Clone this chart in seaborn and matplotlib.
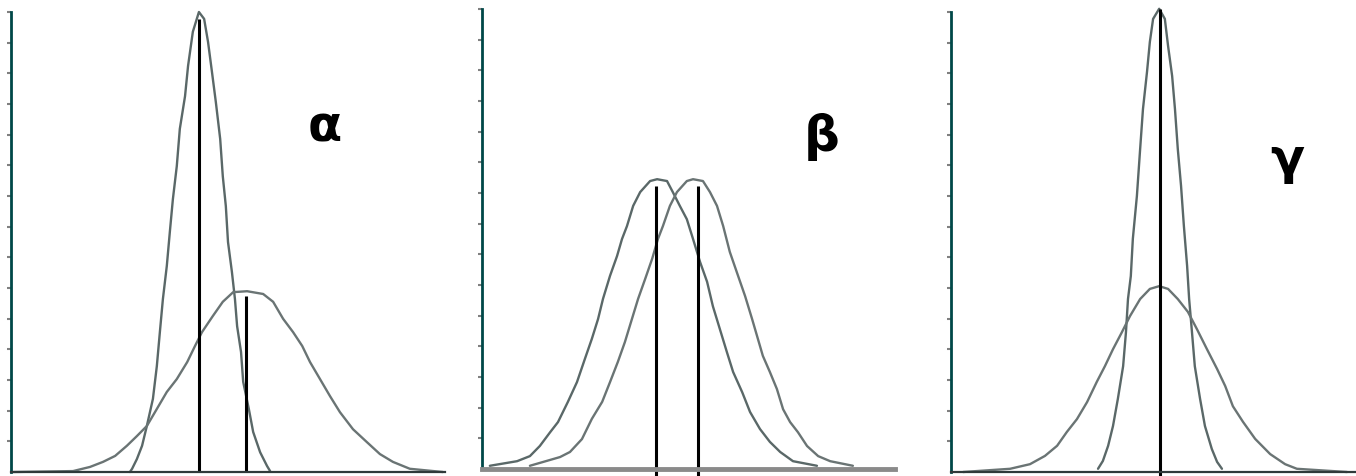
# Tres paneles con curvas normales (alpha, beta, gamma)
import numpy as np
import pandas as pd
import matplotlib
matplotlib.use('Agg')
import matplotlib.pyplot as plt
import seaborn as sns

# Datos: x en % del ancho del eje, y en % del alto
# Panel alfa: curva estrecha y curva ancha
a_narrow_x = [27.4, 27.9, 29.0, 30.2, 31.3, 32.7, 33.6, 34.3, 35.0, 35.9, 36.6, 37.3, 38.2, 38.9,
              40.1, 40.8, 41.9, 43.3, 44.5, 45.4, 46.3, 47.2, 48.2, 48.8, 49.5, 50.0, 50.9,
              51.6, 52.1, 53.0, 53.5, 54.8, 55.8, 57.4, 59.0, 59.7]
a_narrow_y = [0.0, 0.7, 2.8, 5.7, 10.0, 15.9, 23.0, 30.4, 37.6, 44.8, 52.2, 59.3, 66.5, 74.6,
              81.7, 88.3, 95.7, 100.0, 98.5, 93.5, 87.0, 80.4, 72.4, 64.3, 57.8, 50.0, 43.5,
              37.6, 31.7, 26.1, 19.6, 13.7, 8.7, 4.3, 1.3, 0.2]
a_wide_x = [0.5, 14.3, 18.2, 21.2, 24.0, 26.7, 29.0, 31.3, 33.6, 35.9, 38.2, 40.6, 42.4, 44.0,
            46.5, 48.8, 51.2, 54.4, 58.1, 60.4, 62.7, 65.0, 67.1, 68.9, 71.2, 73.5, 75.8,
            78.8, 82.0, 85.0, 88.0, 91.9, 99.5]
a_wide_y = [0.0, 0.2, 1.1, 2.2, 3.5, 5.7, 7.8, 10.0, 13.7, 17.4, 20.2, 23.9, 27.4, 30.4,
            33.9, 37.0, 39.1, 39.3, 38.7, 37.0, 33.3, 30.4, 27.4, 23.9, 20.2, 16.5, 13.0,
            9.3, 6.5, 3.9, 2.2, 0.7, 0.0]
a_means_x = [43.3, 54.1]
a_means_top = [98.5, 38.3]

# Panel beta: dos curvas iguales desplazadas
b_left_x = [1.9, 8.5, 11.6, 14.0, 16.5, 18.4, 20.8, 23.0, 24.9, 26.6, 28.1, 29.3, 31.0, 32.7,
            33.9, 35.1, 36.6, 38.3, 40.7, 42.4, 44.8, 46.2, 47.9, 49.6, 51.1, 52.8, 54.5,
            55.9, 57.6, 59.3, 60.8, 63.0, 64.9, 67.3, 69.7, 72.2, 75.3, 81.1]
b_left_y = [0.7, 1.7, 2.8, 5.0, 8.0, 10.2, 14.6, 18.9, 23.9, 28.3, 32.6, 37.0, 42.0, 46.3,
            50.0, 52.8, 57.2, 60.2, 62.6, 63.0, 62.6, 60.2, 57.2, 54.3, 50.0, 45.0, 40.7,
            35.4, 30.4, 25.4, 21.1, 16.7, 12.4, 8.7, 5.9, 3.7, 1.7, 0.7]
b_right_x = [11.6, 18.9, 21.3, 24.2, 26.6, 29.1, 31.0, 32.9, 34.6, 36.3, 37.8, 39.5, 41.2, 42.6,
             43.8, 45.5, 47.2, 49.6, 51.1, 53.5, 55.2, 56.9, 58.4, 60.0, 62.0, 63.7, 65.4,
             66.8, 68.0, 69.7, 71.4, 72.9, 74.6, 76.5, 78.7, 81.4, 84.3, 89.8]
b_right_y = [0.7, 2.6, 3.7, 6.5, 10.9, 14.6, 18.9, 23.3, 27.6, 32.6, 37.0, 41.3, 45.7, 50.0,
             52.8, 57.2, 60.2, 62.6, 63.0, 62.6, 60.2, 57.2, 52.8, 47.2, 42.0, 37.6, 32.6,
             28.3, 24.6, 21.1, 17.4, 13.0, 10.2, 8.0, 5.0, 2.8, 1.7, 0.7]
b_means_x = [42.1, 52.3]
b_means_top = [61.5, 61.5]

# Panel gamma: misma media, distinta dispersión
g_narrow_x = [36.3, 37.5, 38.8, 40.0, 41.2, 42.5, 43.2, 43.7, 44.4, 44.9, 45.9, 46.7, 47.4, 48.4,
              49.1, 49.9, 51.4, 52.8, 53.6, 54.6, 55.3, 56.0, 56.8, 57.5, 58.3, 58.8, 59.5,
              60.2, 61.5, 62.7, 64.4, 65.7, 66.9]
g_narrow_y = [0.7, 2.4, 5.7, 10.0, 15.9, 23.0, 30.4, 37.6, 42.6, 50.7, 60.0, 70.2, 78.9, 87.0,
              93.5, 98.5, 100.7, 98.5, 92.6, 86.1, 78.9, 70.2, 62.2, 53.5, 44.8, 37.6, 30.4,
              23.0, 15.9, 10.0, 5.0, 2.2, 0.7]
g_wide_x = [3.0, 14.6, 19.5, 23.2, 26.2, 28.6, 31.1, 33.6, 36.0, 38.0, 40.0, 42.2, 44.2, 46.7,
            49.1, 51.4, 53.6, 56.0, 58.5, 60.7, 63.2, 65.7, 67.7, 69.6, 72.1, 75.1, 78.8,
            82.5, 85.4, 97.8]
g_wide_y = [0.0, 0.7, 1.7, 3.5, 5.7, 8.7, 11.5, 15.2, 19.6, 23.0, 26.7, 30.4, 33.9, 37.6,
            39.8, 40.4, 39.8, 37.6, 34.8, 31.1, 26.7, 22.4, 18.7, 14.3, 10.9, 7.2, 3.9,
            1.7, 0.7, 0.0]
g_means_x = [51.6]
g_means_top = [100.7]

labels = ['α', 'β', 'γ']

sns.set_style('white')

fig = plt.figure(figsize=(13.56, 4.77), dpi=100)
W, H = 1356, 477
rects = [(11, 4, 434, 460), (482, 7, 413, 460), (951, 4, 405, 460)]
curves = [[(a_narrow_x, a_narrow_y), (a_wide_x, a_wide_y)],
          [(b_left_x, b_left_y), (b_right_x, b_right_y)],
          [(g_narrow_x, g_narrow_y), (g_wide_x, g_wide_y)]]
means = [(a_means_x, a_means_top), (b_means_x, b_means_top), (g_means_x, g_means_top)]
label_pos = [(72.4, 75.0), (82.3, 72.4), (83.0, 68.0)]
bottom_style = [('#2f3a3a', 1.6), ('#8a8a8a', 3.5), ('#2f3a3a', 1.6)]
vline_base = [0, -1.5, -1.5]

for i in range(3):
    l, b, w, h = rects[i]
    ax = fig.add_axes([l / W, b / H, w / W, h / H])
    rows = []
    for k, (xs, ys) in enumerate(curves[i]):
        rows.append(pd.DataFrame({'x': xs, 'y': ys, 'curve': k}))
    df = pd.concat(rows, ignore_index=True)
    sns.lineplot(data=df, x='x', y='y', hue='curve', palette=['#5a6868', '#6a7474'],
                 estimator=None, legend=False, lw=1.7, ax=ax, clip_on=False)
    mx, mt = means[i]
    ax.vlines(mx, vline_base[i], mt, colors='black', lw=2.2, clip_on=False)
    ax.text(label_pos[i][0], label_pos[i][1], labels[i], ha='center', va='center',
            fontsize=36, color='black', fontweight='bold',
            family=['DejaVu Sans Condensed', 'DejaVu Sans'])
    ax.set_xlim(0, 100)
    ax.set_ylim(0, 100)
    ax.set_xlabel('')
    ax.set_ylabel('')
    ax.set_xticks([])
    ax.set_yticks(np.linspace(0, 100, 16)[1:])
    ax.set_yticklabels([])
    ax.tick_params(axis='y', left=True, length=3, width=1.5, color='#808080',
                   direction='out', pad=0)
    for s in ['top', 'right']:
        ax.spines[s].set_visible(False)
    ax.spines['left'].set_color('#004848')
    ax.spines['left'].set_linewidth(2)
    ax.spines['bottom'].set_color(bottom_style[i][0])
    ax.spines['bottom'].set_linewidth(bottom_style[i][1])
    ax.patch.set_alpha(0)

fig.savefig('out.png', dpi=100)
